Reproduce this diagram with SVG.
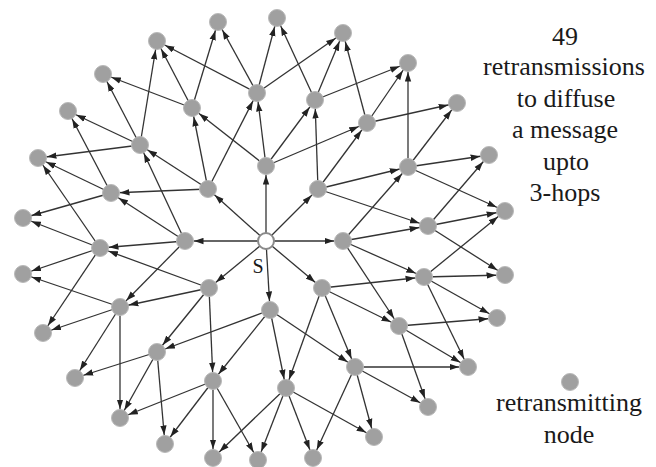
<svg xmlns="http://www.w3.org/2000/svg" width="656" height="467" viewBox="0 0 656 467">
<style>
.e{stroke:#333333;stroke-width:1.3;fill:none;marker-end:url(#ah)}
.n{fill:#a0a0a0;stroke:#b9b9b9;stroke-width:1}
.s{fill:#ffffff;stroke:#8a8a8a;stroke-width:2}
.t{font-size:26px;fill:#1a1a1a;text-anchor:middle}
.sl{font-size:20px;fill:#1a1a1a;text-anchor:middle}
</style>
<defs>
<marker id="ah" markerUnits="userSpaceOnUse" markerWidth="20" markerHeight="7" refX="18.5" refY="3.5" orient="auto">
<path d="M0,0.3 L9.5,3.5 L0,6.7 z" fill="#222222"/>
</marker>
</defs>
<rect width="656" height="467" fill="#ffffff"/>
<g id="connectors">
<line class="e" x1="266" y1="241" x2="266" y2="166"/>
<line class="e" x1="266" y1="241" x2="318" y2="189"/>
<line class="e" x1="266" y1="241" x2="343" y2="241"/>
<line class="e" x1="266" y1="241" x2="322" y2="288"/>
<line class="e" x1="266" y1="241" x2="270" y2="310"/>
<line class="e" x1="266" y1="241" x2="209" y2="288"/>
<line class="e" x1="266" y1="241" x2="185" y2="241"/>
<line class="e" x1="266" y1="241" x2="208" y2="189"/>
<line class="e" x1="266" y1="166" x2="192" y2="108"/>
<line class="e" x1="266" y1="166" x2="257" y2="93"/>
<line class="e" x1="266" y1="166" x2="315" y2="100"/>
<line class="e" x1="266" y1="166" x2="367" y2="123"/>
<line class="e" x1="318" y1="189" x2="315" y2="100"/>
<line class="e" x1="318" y1="189" x2="367" y2="123"/>
<line class="e" x1="318" y1="189" x2="408" y2="167"/>
<line class="e" x1="318" y1="189" x2="428" y2="226"/>
<line class="e" x1="343" y1="241" x2="408" y2="167"/>
<line class="e" x1="343" y1="241" x2="428" y2="226"/>
<line class="e" x1="343" y1="241" x2="424" y2="277"/>
<line class="e" x1="343" y1="241" x2="399" y2="326"/>
<line class="e" x1="322" y1="288" x2="424" y2="277"/>
<line class="e" x1="322" y1="288" x2="399" y2="326"/>
<line class="e" x1="322" y1="288" x2="355" y2="367"/>
<line class="e" x1="322" y1="288" x2="286" y2="388"/>
<line class="e" x1="270" y1="310" x2="355" y2="367"/>
<line class="e" x1="270" y1="310" x2="286" y2="388"/>
<line class="e" x1="270" y1="310" x2="213" y2="381"/>
<line class="e" x1="270" y1="310" x2="157" y2="352"/>
<line class="e" x1="209" y1="288" x2="213" y2="381"/>
<line class="e" x1="209" y1="288" x2="157" y2="352"/>
<line class="e" x1="209" y1="288" x2="120" y2="307"/>
<line class="e" x1="209" y1="288" x2="100" y2="248"/>
<line class="e" x1="185" y1="241" x2="120" y2="307"/>
<line class="e" x1="185" y1="241" x2="100" y2="248"/>
<line class="e" x1="185" y1="241" x2="111" y2="193"/>
<line class="e" x1="185" y1="241" x2="140" y2="145"/>
<line class="e" x1="208" y1="189" x2="111" y2="193"/>
<line class="e" x1="208" y1="189" x2="140" y2="145"/>
<line class="e" x1="208" y1="189" x2="192" y2="108"/>
<line class="e" x1="208" y1="189" x2="257" y2="93"/>
<line class="e" x1="257" y1="93" x2="157" y2="41"/>
<line class="e" x1="257" y1="93" x2="218" y2="22"/>
<line class="e" x1="257" y1="93" x2="277" y2="18"/>
<line class="e" x1="257" y1="93" x2="343" y2="33"/>
<line class="e" x1="315" y1="100" x2="277" y2="18"/>
<line class="e" x1="315" y1="100" x2="343" y2="33"/>
<line class="e" x1="315" y1="100" x2="408" y2="63"/>
<line class="e" x1="367" y1="123" x2="343" y2="33"/>
<line class="e" x1="367" y1="123" x2="408" y2="63"/>
<line class="e" x1="367" y1="123" x2="457" y2="103"/>
<line class="e" x1="408" y1="167" x2="408" y2="63"/>
<line class="e" x1="408" y1="167" x2="457" y2="103"/>
<line class="e" x1="408" y1="167" x2="489" y2="155"/>
<line class="e" x1="408" y1="167" x2="505" y2="211"/>
<line class="e" x1="428" y1="226" x2="489" y2="155"/>
<line class="e" x1="428" y1="226" x2="505" y2="211"/>
<line class="e" x1="428" y1="226" x2="505" y2="275"/>
<line class="e" x1="424" y1="277" x2="505" y2="211"/>
<line class="e" x1="424" y1="277" x2="505" y2="275"/>
<line class="e" x1="424" y1="277" x2="497" y2="318"/>
<line class="e" x1="424" y1="277" x2="468" y2="367"/>
<line class="e" x1="399" y1="326" x2="497" y2="318"/>
<line class="e" x1="399" y1="326" x2="468" y2="367"/>
<line class="e" x1="399" y1="326" x2="428" y2="407"/>
<line class="e" x1="355" y1="367" x2="468" y2="367"/>
<line class="e" x1="355" y1="367" x2="428" y2="407"/>
<line class="e" x1="355" y1="367" x2="374" y2="437"/>
<line class="e" x1="355" y1="367" x2="313" y2="458"/>
<line class="e" x1="286" y1="388" x2="374" y2="437"/>
<line class="e" x1="286" y1="388" x2="313" y2="458"/>
<line class="e" x1="286" y1="388" x2="258" y2="460"/>
<line class="e" x1="286" y1="388" x2="213" y2="458"/>
<line class="e" x1="213" y1="381" x2="258" y2="460"/>
<line class="e" x1="213" y1="381" x2="213" y2="458"/>
<line class="e" x1="213" y1="381" x2="165" y2="444"/>
<line class="e" x1="213" y1="381" x2="120" y2="418"/>
<line class="e" x1="157" y1="352" x2="165" y2="444"/>
<line class="e" x1="157" y1="352" x2="120" y2="418"/>
<line class="e" x1="157" y1="352" x2="75" y2="378"/>
<line class="e" x1="120" y1="307" x2="120" y2="418"/>
<line class="e" x1="120" y1="307" x2="75" y2="378"/>
<line class="e" x1="120" y1="307" x2="43" y2="333"/>
<line class="e" x1="120" y1="307" x2="23" y2="274"/>
<line class="e" x1="100" y1="248" x2="43" y2="333"/>
<line class="e" x1="100" y1="248" x2="23" y2="274"/>
<line class="e" x1="100" y1="248" x2="23" y2="218"/>
<line class="e" x1="100" y1="248" x2="38" y2="158"/>
<line class="e" x1="111" y1="193" x2="23" y2="218"/>
<line class="e" x1="111" y1="193" x2="38" y2="158"/>
<line class="e" x1="111" y1="193" x2="68" y2="111"/>
<line class="e" x1="140" y1="145" x2="38" y2="158"/>
<line class="e" x1="140" y1="145" x2="68" y2="111"/>
<line class="e" x1="140" y1="145" x2="103" y2="74"/>
<line class="e" x1="140" y1="145" x2="157" y2="41"/>
<line class="e" x1="192" y1="108" x2="103" y2="74"/>
<line class="e" x1="192" y1="108" x2="157" y2="41"/>
<line class="e" x1="192" y1="108" x2="218" y2="22"/>
</g>
<g id="src"><circle class="s" cx="266" cy="241" r="8"/><text class="sl" font-family="'Liberation Serif', 'Times New Roman', serif" x="258" y="273">S</text></g>
<g id="n1"><circle class="n" cx="266" cy="166" r="8.5"/></g>
<g id="n2"><circle class="n" cx="318" cy="189" r="8.5"/></g>
<g id="n3"><circle class="n" cx="343" cy="241" r="8.5"/></g>
<g id="n4"><circle class="n" cx="322" cy="288" r="8.5"/></g>
<g id="n5"><circle class="n" cx="270" cy="310" r="8.5"/></g>
<g id="n6"><circle class="n" cx="209" cy="288" r="8.5"/></g>
<g id="n7"><circle class="n" cx="185" cy="241" r="8.5"/></g>
<g id="n8"><circle class="n" cx="208" cy="189" r="8.5"/></g>
<g id="h1"><circle class="n" cx="257" cy="93" r="8.5"/></g>
<g id="h2"><circle class="n" cx="315" cy="100" r="8.5"/></g>
<g id="h3"><circle class="n" cx="367" cy="123" r="8.5"/></g>
<g id="h4"><circle class="n" cx="408" cy="167" r="8.5"/></g>
<g id="h5"><circle class="n" cx="428" cy="226" r="8.5"/></g>
<g id="h6"><circle class="n" cx="424" cy="277" r="8.5"/></g>
<g id="h7"><circle class="n" cx="399" cy="326" r="8.5"/></g>
<g id="h8"><circle class="n" cx="355" cy="367" r="8.5"/></g>
<g id="h9"><circle class="n" cx="286" cy="388" r="8.5"/></g>
<g id="h10"><circle class="n" cx="213" cy="381" r="8.5"/></g>
<g id="h11"><circle class="n" cx="157" cy="352" r="8.5"/></g>
<g id="h12"><circle class="n" cx="120" cy="307" r="8.5"/></g>
<g id="h13"><circle class="n" cx="100" cy="248" r="8.5"/></g>
<g id="h14"><circle class="n" cx="111" cy="193" r="8.5"/></g>
<g id="h15"><circle class="n" cx="140" cy="145" r="8.5"/></g>
<g id="h16"><circle class="n" cx="192" cy="108" r="8.5"/></g>
<g id="o1"><circle class="n" cx="157" cy="41" r="8.5"/></g>
<g id="o2"><circle class="n" cx="218" cy="22" r="8.5"/></g>
<g id="o3"><circle class="n" cx="277" cy="18" r="8.5"/></g>
<g id="o4"><circle class="n" cx="343" cy="33" r="8.5"/></g>
<g id="o5"><circle class="n" cx="408" cy="63" r="8.5"/></g>
<g id="o6"><circle class="n" cx="457" cy="103" r="8.5"/></g>
<g id="o7"><circle class="n" cx="489" cy="155" r="8.5"/></g>
<g id="o8"><circle class="n" cx="505" cy="211" r="8.5"/></g>
<g id="o9"><circle class="n" cx="505" cy="275" r="8.5"/></g>
<g id="o10"><circle class="n" cx="497" cy="318" r="8.5"/></g>
<g id="o11"><circle class="n" cx="468" cy="367" r="8.5"/></g>
<g id="o12"><circle class="n" cx="428" cy="407" r="8.5"/></g>
<g id="o13"><circle class="n" cx="374" cy="437" r="8.5"/></g>
<g id="o14"><circle class="n" cx="313" cy="458" r="8.5"/></g>
<g id="o15"><circle class="n" cx="258" cy="460" r="8.5"/></g>
<g id="o16"><circle class="n" cx="213" cy="458" r="8.5"/></g>
<g id="o17"><circle class="n" cx="165" cy="444" r="8.5"/></g>
<g id="o18"><circle class="n" cx="120" cy="418" r="8.5"/></g>
<g id="o19"><circle class="n" cx="75" cy="378" r="8.5"/></g>
<g id="o20"><circle class="n" cx="43" cy="333" r="8.5"/></g>
<g id="o21"><circle class="n" cx="23" cy="274" r="8.5"/></g>
<g id="o22"><circle class="n" cx="23" cy="218" r="8.5"/></g>
<g id="o23"><circle class="n" cx="38" cy="158" r="8.5"/></g>
<g id="o24"><circle class="n" cx="68" cy="111" r="8.5"/></g>
<g id="o25"><circle class="n" cx="103" cy="74" r="8.5"/></g>
<g id="caption" font-family="'Liberation Serif', 'Times New Roman', serif">
<text class="t" x="565" y="45">49</text>
<text class="t" x="564" y="75">retransmissions</text>
<text class="t" x="566" y="106.5">to diffuse</text>
<text class="t" x="565" y="138">a message</text>
<text class="t" x="566" y="169.5">upto</text>
<text class="t" x="565" y="201">3-hops</text>
</g>
<g id="legend" font-family="'Liberation Serif', 'Times New Roman', serif">
<circle class="n" cx="570" cy="382" r="8.5"/>
<text class="t" x="569" y="411">retransmitting</text>
<text class="t" x="569" y="443">node</text>
</g>
</svg>
